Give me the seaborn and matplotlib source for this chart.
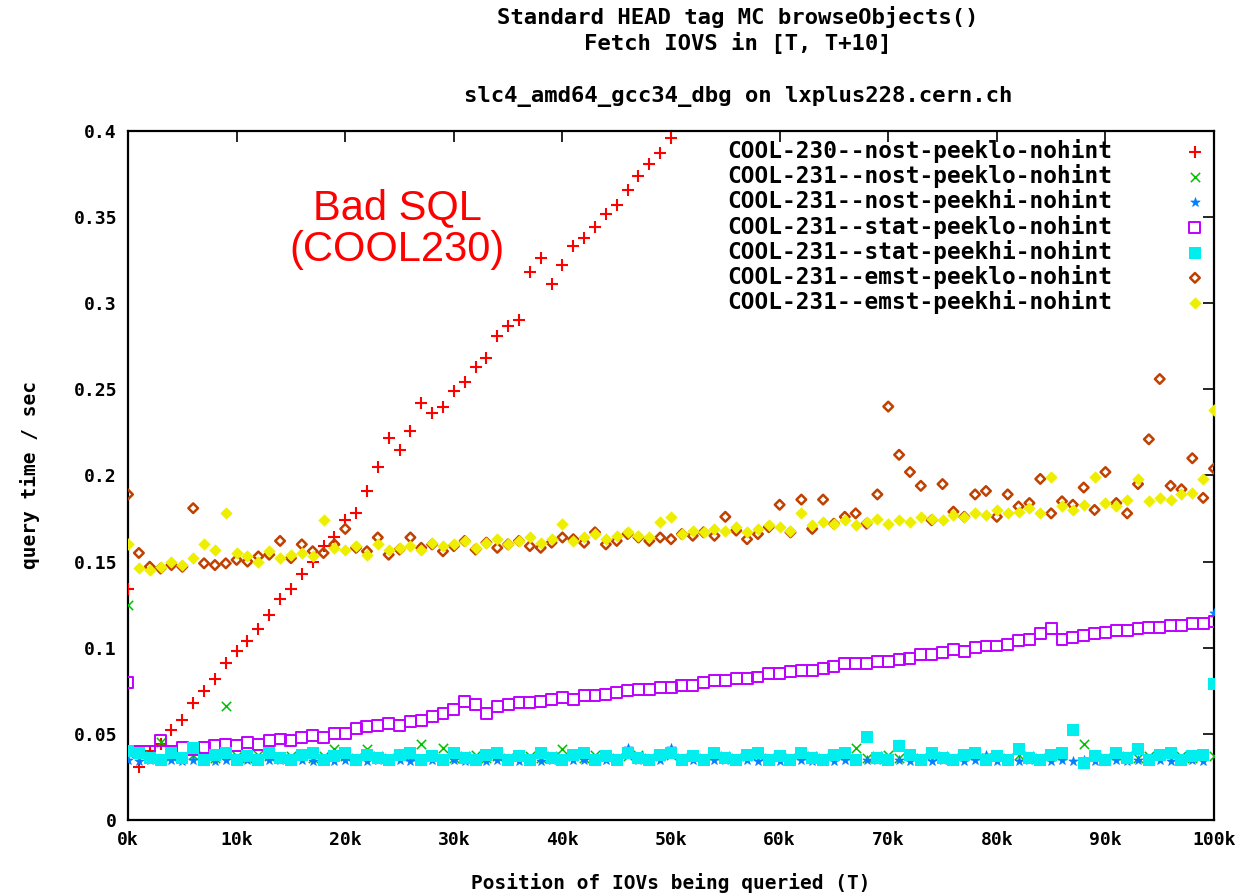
import numpy as np
import pandas as pd
import matplotlib
matplotlib.use("Agg")
import matplotlib.pyplot as plt
import seaborn as sns

# IOV positions probed (every 1k), values are query times in seconds
positions = np.arange(0, 100001, 1000)
red_positions = np.arange(0, 50001, 1000)

cool230_nost_peeklo = [
    0.134, 0.031, 0.040, 0.044, 0.052, 0.058, 0.068, 0.075, 0.082, 0.091,
    0.098, 0.104, 0.111, 0.119, 0.128, 0.134, 0.143, 0.150, 0.159, 0.164,
    0.174, 0.178, 0.191, 0.205, 0.222, 0.215, 0.226, 0.242, 0.236, 0.240,
    0.249, 0.254, 0.263, 0.268, 0.281, 0.287, 0.290, 0.318, 0.326, 0.311,
    0.322, 0.333, 0.338, 0.344, 0.352, 0.357, 0.366, 0.374, 0.381, 0.387,
    0.396,
]

cool231_nost_peeklo = [
    0.125, 0.040, 0.038, 0.045, 0.037, 0.036, 0.038, 0.037, 0.036, 0.066,
    0.037, 0.036, 0.038, 0.037, 0.036, 0.037, 0.038, 0.036, 0.037, 0.041,
    0.037, 0.036, 0.041, 0.037, 0.036, 0.038, 0.037, 0.044, 0.037, 0.042,
    0.036, 0.037, 0.038, 0.036, 0.037, 0.036, 0.038, 0.037, 0.036, 0.037,
    0.041, 0.037, 0.036, 0.038, 0.037, 0.036, 0.037, 0.038, 0.036, 0.037,
    0.038, 0.036, 0.037, 0.036, 0.038, 0.037, 0.036, 0.037, 0.038, 0.036,
    0.037, 0.036, 0.038, 0.037, 0.036, 0.037, 0.038, 0.042, 0.036, 0.037,
    0.038, 0.036, 0.037, 0.036, 0.038, 0.037, 0.036, 0.037, 0.038, 0.036,
    0.037, 0.036, 0.038, 0.037, 0.036, 0.037, 0.038, 0.053, 0.044, 0.037,
    0.036, 0.038, 0.037, 0.036, 0.037, 0.038, 0.039, 0.037, 0.036, 0.038,
    0.037,
]

cool231_nost_peekhi = [
    0.035, 0.034, 0.035, 0.034, 0.035, 0.034, 0.035, 0.035, 0.034, 0.035,
    0.034, 0.035, 0.034, 0.035, 0.035, 0.034, 0.035, 0.034, 0.035, 0.034,
    0.035, 0.035, 0.034, 0.035, 0.034, 0.035, 0.034, 0.035, 0.035, 0.034,
    0.035, 0.034, 0.035, 0.034, 0.035, 0.035, 0.034, 0.035, 0.034, 0.035,
    0.034, 0.035, 0.035, 0.034, 0.035, 0.034, 0.042, 0.035, 0.034, 0.035,
    0.042, 0.034, 0.035, 0.034, 0.035, 0.035, 0.034, 0.035, 0.034, 0.035,
    0.034, 0.035, 0.035, 0.034, 0.035, 0.034, 0.035, 0.034, 0.035, 0.035,
    0.034, 0.035, 0.034, 0.035, 0.034, 0.035, 0.035, 0.034, 0.035, 0.038,
    0.034, 0.035, 0.034, 0.035, 0.035, 0.034, 0.035, 0.034, 0.035, 0.034,
    0.035, 0.035, 0.034, 0.035, 0.034, 0.035, 0.034, 0.035, 0.035, 0.034,
    0.120,
]

cool231_stat_peeklo = [
    0.080, 0.040, 0.040, 0.046, 0.040, 0.042, 0.041, 0.042, 0.043, 0.044,
    0.043, 0.045, 0.044, 0.046, 0.047, 0.046, 0.048, 0.049, 0.048, 0.050,
    0.050, 0.053, 0.054, 0.055, 0.056, 0.055, 0.057, 0.058, 0.060, 0.062,
    0.064, 0.069, 0.067, 0.062, 0.066, 0.067, 0.068, 0.068, 0.069, 0.070,
    0.071, 0.070, 0.072, 0.072, 0.073, 0.074, 0.075, 0.076, 0.076, 0.077,
    0.077, 0.078, 0.078, 0.080, 0.081, 0.081, 0.082, 0.082, 0.083, 0.085,
    0.085, 0.086, 0.087, 0.087, 0.088, 0.089, 0.091, 0.091, 0.091, 0.092,
    0.092, 0.093, 0.094, 0.096, 0.096, 0.097, 0.099, 0.098, 0.100, 0.101,
    0.101, 0.102, 0.104, 0.105, 0.108, 0.111, 0.105, 0.106, 0.107, 0.108,
    0.109, 0.110, 0.110, 0.111, 0.112, 0.112, 0.113, 0.113, 0.114, 0.114,
    0.115,
]

cool231_stat_peekhi = [
    0.040, 0.039, 0.036, 0.035, 0.039, 0.036, 0.042, 0.035, 0.038, 0.039,
    0.035, 0.037, 0.035, 0.039, 0.036, 0.035, 0.038, 0.039, 0.035, 0.037,
    0.039, 0.035, 0.038, 0.036, 0.035, 0.038, 0.039, 0.035, 0.037, 0.035,
    0.039, 0.036, 0.035, 0.038, 0.039, 0.035, 0.037, 0.035, 0.039, 0.036,
    0.035, 0.038, 0.039, 0.035, 0.037, 0.035, 0.039, 0.036, 0.035, 0.038,
    0.039, 0.035, 0.037, 0.035, 0.039, 0.036, 0.035, 0.038, 0.039, 0.035,
    0.037, 0.035, 0.039, 0.036, 0.035, 0.038, 0.039, 0.035, 0.048, 0.036,
    0.035, 0.043, 0.038, 0.035, 0.039, 0.036, 0.035, 0.038, 0.039, 0.035,
    0.037, 0.035, 0.041, 0.036, 0.035, 0.038, 0.039, 0.052, 0.033, 0.037,
    0.035, 0.039, 0.036, 0.041, 0.035, 0.038, 0.039, 0.035, 0.037, 0.038,
    0.079,
]

cool231_emst_peeklo = [
    0.189, 0.155, 0.147, 0.146, 0.148, 0.147, 0.181, 0.149, 0.148, 0.149,
    0.151, 0.150, 0.153, 0.154, 0.162, 0.152, 0.160, 0.156, 0.155, 0.160,
    0.169, 0.158, 0.156, 0.164, 0.154, 0.157, 0.164, 0.158, 0.160, 0.156,
    0.159, 0.162, 0.157, 0.161, 0.158, 0.160, 0.162, 0.159, 0.158, 0.161,
    0.164, 0.163, 0.161, 0.167, 0.160, 0.162, 0.166, 0.164, 0.162, 0.164,
    0.163, 0.166, 0.165, 0.167, 0.165, 0.176, 0.168, 0.163, 0.166, 0.170,
    0.183, 0.167, 0.186, 0.169, 0.186, 0.172, 0.176, 0.178, 0.172, 0.189,
    0.240, 0.212, 0.202, 0.194, 0.174, 0.195, 0.179, 0.176, 0.189, 0.191,
    0.176, 0.189, 0.182, 0.184, 0.198, 0.178, 0.185, 0.183, 0.193, 0.180,
    0.202, 0.184, 0.178, 0.195, 0.221, 0.256, 0.194, 0.192, 0.210, 0.187,
    0.204,
]

cool231_emst_peekhi = [
    0.160, 0.146, 0.145, 0.147, 0.150, 0.148, 0.152, 0.160, 0.157, 0.178,
    0.155, 0.153, 0.150, 0.156, 0.152, 0.154, 0.155, 0.153, 0.174, 0.158,
    0.157, 0.159, 0.154, 0.160, 0.157, 0.158, 0.159, 0.157, 0.161, 0.159,
    0.160, 0.162, 0.158, 0.161, 0.163, 0.160, 0.162, 0.164, 0.161, 0.163,
    0.172, 0.162, 0.164, 0.166, 0.163, 0.165, 0.167, 0.165, 0.164, 0.173,
    0.176, 0.166, 0.168, 0.167, 0.169, 0.168, 0.170, 0.167, 0.169, 0.171,
    0.170, 0.168, 0.178, 0.171, 0.173, 0.172, 0.174, 0.171, 0.173, 0.175,
    0.172, 0.174, 0.173, 0.176, 0.175, 0.174, 0.177, 0.176, 0.178, 0.177,
    0.180, 0.178, 0.179, 0.181, 0.178, 0.199, 0.182, 0.180, 0.183, 0.199,
    0.184, 0.182, 0.186, 0.198, 0.185, 0.187, 0.186, 0.189, 0.190, 0.198,
    0.238,
]

x_ticks = [0, 10000, 20000, 30000, 40000, 50000, 60000, 70000, 80000, 90000, 100000]
x_tick_labels = ["0k", "10k", "20k", "30k", "40k", "50k", "60k", "70k", "80k", "90k", "100k"]
y_ticks = [0, 0.05, 0.1, 0.15, 0.2, 0.25, 0.3, 0.35, 0.4]
y_tick_labels = ["0", "0.05", "0.1", "0.15", "0.2", "0.25", "0.3", "0.35", "0.4"]

# (label, x, y, marker, colour, size, filled, linewidth)
series = [
    ("COOL-230--nost-peeklo-nohint", red_positions, cool230_nost_peeklo, "+", "#ff0000", 70, True, 1.5),
    ("COOL-231--nost-peeklo-nohint", positions, cool231_nost_peeklo, "x", "#00c000", 45, True, 1.1),
    ("COOL-231--nost-peekhi-nohint", positions, cool231_nost_peekhi, "*", "#0080ff", 50, True, 0.5),
    ("COOL-231--stat-peeklo-nohint", positions, cool231_stat_peeklo, "s", "#c000ff", 62, False, 1.4),
    ("COOL-231--stat-peekhi-nohint", positions, cool231_stat_peekhi, "s", "#00eeee", 75, True, 0),
    ("COOL-231--emst-peeklo-nohint", positions, cool231_emst_peeklo, "D", "#c04000", 24, False, 1.8),
    ("COOL-231--emst-peekhi-nohint", positions, cool231_emst_peekhi, "D", "#eeee00", 40, True, 0),
]

sns.set_theme(style="white")
plt.rcParams["font.family"] = ["DejaVu Sans Mono", "DejaVu Sans"]
plt.rcParams["text.color"] = "black"
plt.rcParams["axes.labelcolor"] = "black"
plt.rcParams["xtick.color"] = "black"
plt.rcParams["ytick.color"] = "black"

fig = plt.figure(figsize=(12.43, 8.94), dpi=100)
ax = fig.add_axes([0.103, 0.0828, 0.8737, 0.7707])

for label, xs, ys, marker, colour, size, filled, lw in series:
    df = pd.DataFrame({"T": xs, "t": ys})
    if marker in ("+", "x"):
        sns.scatterplot(data=df, x="T", y="t", ax=ax, marker=marker, color=colour,
                        s=size, linewidth=lw, label=label, zorder=3)
    elif filled:
        sns.scatterplot(data=df, x="T", y="t", ax=ax, marker=marker, color=colour,
                        s=size, linewidth=lw, edgecolor=colour, label=label, zorder=3)
    else:
        sns.scatterplot(data=df, x="T", y="t", ax=ax, marker=marker, facecolor="none",
                        edgecolor=colour, s=size, linewidth=lw, label=label, zorder=3)

ax.set_xlim(0, 100000)
ax.set_ylim(0, 0.4)
ax.set_xticks(x_ticks, x_tick_labels)
ax.set_yticks(y_ticks, y_tick_labels)
ax.tick_params(axis="both", direction="in", length=8, width=1.2, top=True, right=True,
               labelsize=13, pad=8)
for lab in ax.get_xticklabels() + ax.get_yticklabels():
    lab.set_fontweight("bold")
for sp in ax.spines.values():
    sp.set_linewidth(1.6)
    sp.set_color("black")

ax.set_xlabel("Position of IOVs being queried (T)", fontsize=14, fontweight="bold", labelpad=17)
ax.set_ylabel("query time / sec", fontsize=14, fontweight="bold", labelpad=24)

fig.text(0.5935, 0.993, "Standard HEAD tag MC browseObjects()\nFetch IOVS in [T, T+10]",
         ha="center", va="top", fontsize=16, fontweight="bold", linespacing=1.2)
fig.text(0.5935, 0.8925, "slc4_amd64_gcc34_dbg on lxplus228.cern.ch",
         ha="center", va="center", fontsize=16, fontweight="bold")

ax.text(24800, 0.343, "Bad SQL\n(COOL230)", color="#ff0000", fontsize=30,
        family="Liberation Sans", ha="center", va="center", linespacing=1.05)

leg = ax.legend(loc="upper right", bbox_to_anchor=(1.0055, 1.008), frameon=False,
                markerfirst=False, prop={"family": "DejaVu Sans Mono", "size": 16.4},
                labelspacing=0.05, handletextpad=3.15, handlelength=1.0, borderaxespad=0.2)
for txt in leg.get_texts():
    txt.set_fontweight("bold")

fig.savefig("out.png", dpi=100)
